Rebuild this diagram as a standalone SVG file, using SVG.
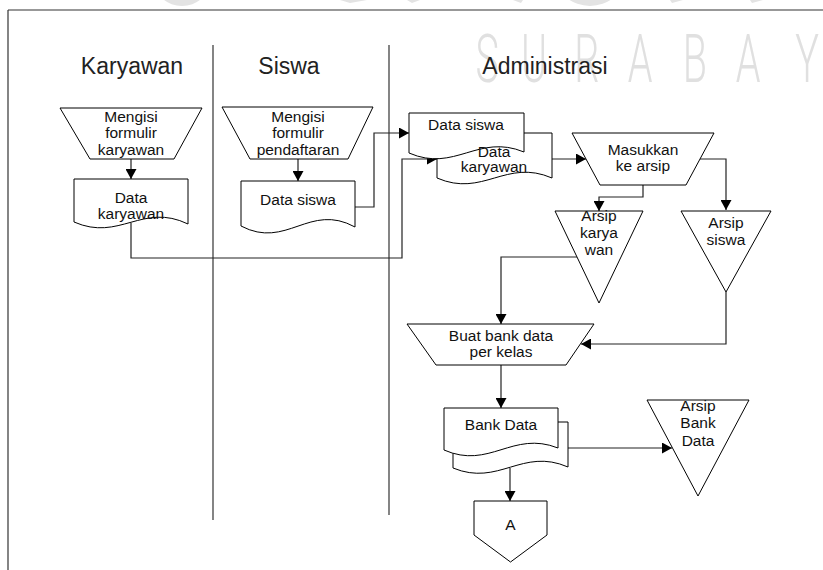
<svg xmlns="http://www.w3.org/2000/svg" width="823" height="570" viewBox="0 0 823 570">
  <style>
    .shape { fill: #fff; stroke: #000; stroke-width: 1; }
    .conn { fill: none; stroke: #222; stroke-width: 1.2; }
    .lane { stroke: #333; stroke-width: 1.2; }
    .lbl { font-family: "Liberation Sans", Arial, sans-serif; font-size: 15.5px; fill: #111; text-anchor: middle; }
    .title { font-family: "Liberation Sans", Arial, sans-serif; font-size: 23px; fill: #222; text-anchor: middle; }
    .wm { fill: #e3e3e3; }
  </style>
  <defs>
    <marker id="ah" markerWidth="10" markerHeight="11" refX="10" refY="5.5" orient="auto" markerUnits="userSpaceOnUse">
      <path d="M0,0 L10,5.5 L0,11 Z" fill="#000"/>
    </marker>
  </defs>

  <rect width="823" height="570" fill="#fff"/>

  <!-- faint background lettering -->
  <g id="watermark">
    <ellipse class="wm" cx="182" cy="-18" rx="27" ry="24"/>
    <ellipse class="wm" cx="590" cy="-22" rx="33" ry="28"/>
    <path class="wm" d="M340,0 L367,0 L350,3 Z M407,0 L420,0 L412,3 Z M513,0 L523,0 L521,3 Z M670,0 L683,0 L672,3 Z M750,0 L763,0 L752,3 Z"/>
    <text transform="scale(0.6,1)" y="82" x="812 890 978 1067 1158 1247 1345" font-family="Roboto, 'Liberation Sans', sans-serif" font-weight="300" font-size="66" fill="#e0e0e0" text-anchor="middle">SURABAY</text>
  </g>

  <!-- frame -->
  <g id="frame">
    <line class="lane" x1="8" y1="10" x2="823" y2="10"/>
    <line class="lane" x1="8" y1="10" x2="8" y2="570"/>
  </g>

  <!-- swimlanes -->
  <g id="lanes">
    <line class="lane" x1="213" y1="45" x2="213" y2="520"/>
    <line class="lane" x1="389" y1="45" x2="389" y2="515"/>
    <text class="title" x="132" y="74">Karyawan</text>
    <text class="title" x="289" y="74">Siswa</text>
    <text class="title" x="545" y="74">Administrasi</text>
  </g>

  <!-- connectors -->
  <g id="connectors">
    <path class="conn" d="M131,159 V179" marker-end="url(#ah)"/>
    <path class="conn" d="M298,159 V181" marker-end="url(#ah)"/>
    <path class="conn" d="M355,207 H374 V133 H409" marker-end="url(#ah)"/>
    <path class="conn" d="M131,223 V258 H402 V159 H437" marker-end="url(#ah)"/>
    <path class="conn" d="M552,159 H586" marker-end="url(#ah)"/>
    <path class="conn" d="M643,185 V197 H599 V211" marker-end="url(#ah)"/>
    <path class="conn" d="M700,159 H726 V210" marker-end="url(#ah)"/>
    <path class="conn" d="M726,292 V344 H581" marker-end="url(#ah)"/>
    <path class="conn" d="M577,257 H501 V324" marker-end="url(#ah)"/>
    <path class="conn" d="M501,365 V408" marker-end="url(#ah)"/>
    <path class="conn" d="M568,448 H672" marker-end="url(#ah)"/>
    <path class="conn" d="M510,468 V501" marker-end="url(#ah)"/>
  </g>

  <!-- Karyawan lane -->
  <g id="isi-formulir-karyawan">
    <polygon class="shape" points="60,108 202,108 174,159 90,159"/>
    <text class="lbl" x="131" y="122">Mengisi</text>
    <text class="lbl" x="131" y="138">formulir</text>
    <text class="lbl" x="131" y="155">karyawan</text>
  </g>
  <g id="doc-data-karyawan">
    <path class="shape" d="M74,179 H188 V224 C142.4,202 119.6,242 74,222 Z"/>
    <text class="lbl" x="131" y="203">Data</text>
    <text class="lbl" x="131" y="219">karyawan</text>
  </g>

  <!-- Siswa lane -->
  <g id="isi-formulir-pendaftaran">
    <polygon class="shape" points="222,107 373,107 348,159 250,159"/>
    <text class="lbl" x="298" y="122">Mengisi</text>
    <text class="lbl" x="298" y="138">formulir</text>
    <text class="lbl" x="298" y="155">pendaftaran</text>
  </g>
  <g id="doc-data-siswa">
    <path class="shape" d="M241,181 H355 V227 C309.4,202 286.6,250 241,226 Z"/>
    <text class="lbl" x="298" y="205">Data siswa</text>
  </g>

  <!-- Administrasi lane -->
  <g id="docs-siswa-karyawan">
    <path class="shape" d="M437,133 H552 V178 C506,158 483,198 437,178 Z"/>
    <path class="shape" d="M409,113 H524 V152 C478,133 455,173 409,153 Z"/>
    <text class="lbl" x="466" y="130">Data siswa</text>
    <text class="lbl" x="494" y="157">Data</text>
    <text class="lbl" x="494" y="172">karyawan</text>
  </g>
  <g id="masukkan-arsip">
    <polygon class="shape" points="572,133 714,133 686,185 600,185"/>
    <text class="lbl" x="643" y="155">Masukkan</text>
    <text class="lbl" x="643" y="171">ke arsip</text>
  </g>
  <g id="arsip-karyawan">
    <polygon class="shape" points="555,211 643,211 599,303"/>
    <text class="lbl" x="599" y="221">Arsip</text>
    <text class="lbl" x="599" y="238">karya</text>
    <text class="lbl" x="599" y="255">wan</text>
  </g>
  <g id="arsip-siswa">
    <polygon class="shape" points="681,211 771,211 726,292"/>
    <text class="lbl" x="726" y="228">Arsip</text>
    <text class="lbl" x="726" y="245">siswa</text>
  </g>
  <g id="buat-bank-data">
    <polygon class="shape" points="407,324 594,324 566,365 436,365"/>
    <text class="lbl" x="501" y="341">Buat bank data</text>
    <text class="lbl" x="501" y="357">per kelas</text>
  </g>
  <g id="docs-bank-data">
    <path class="shape" d="M453,422 H568 V467 C522,447 499,487 453,468 Z"/>
    <path class="shape" d="M444,408 H558 V448 C512.4,430 489.6,470 444,450 Z"/>
    <text class="lbl" x="501" y="430">Bank Data</text>
  </g>
  <g id="arsip-bank-data">
    <polygon class="shape" points="647,400 749,400 698,496"/>
    <text class="lbl" x="698" y="411">Arsip</text>
    <text class="lbl" x="698" y="428">Bank</text>
    <text class="lbl" x="698" y="446">Data</text>
  </g>
  <g id="offpage-a">
    <polygon class="shape" points="474,501 547,501 547,535 510.5,562 474,535"/>
    <text class="lbl" x="510.5" y="530">A</text>
  </g>
</svg>
